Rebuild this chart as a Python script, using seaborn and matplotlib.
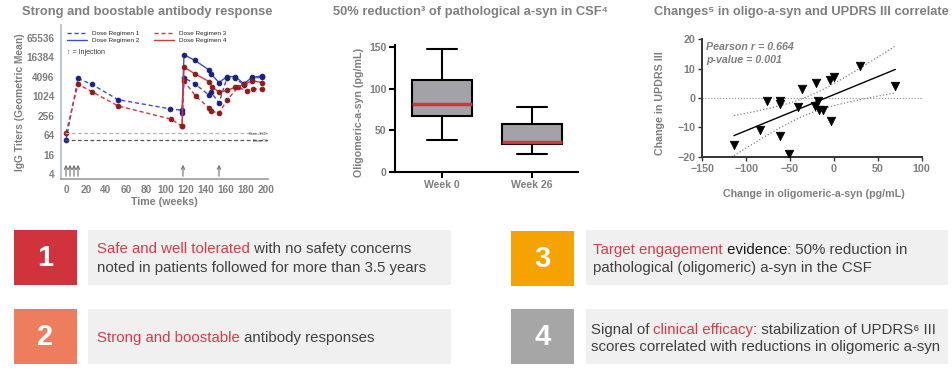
import numpy as np
import pandas as pd
import matplotlib
matplotlib.use('Agg')
import matplotlib.pyplot as plt
from matplotlib.patches import Rectangle
from matplotlib.lines import Line2D
import seaborn as sns

# ---- data ----
# antibody titers (geometric mean) by week
reg1_weeks = [0, 12, 26, 52, 104, 116, 118, 129, 143, 145, 153, 161, 169, 178, 186, 196]
reg1_titer = [46, 3600, 2350, 800, 415, 375, 3800, 2450, 1100, 1350, 640, 3800, 3600, 2300, 3600, 4000]
reg2_weeks = [116, 118, 129, 143, 145, 153, 161, 169, 178, 186, 196]
reg2_titer = [300, 19500, 13000, 6600, 5000, 2700, 4100, 4100, 2500, 3900, 4300]
reg3_weeks = [0, 12, 26, 52, 105, 116, 118, 130, 143, 145, 153, 161, 172, 181, 187, 196]
reg3_titer = [74, 2400, 1400, 512, 200, 120, 3000, 1000, 450, 360, 300, 780, 1900, 1500, 1700, 1700]
reg4_weeks = [116, 118, 129, 143, 146, 153, 161, 169, 178, 186, 196]
reg4_titer = [120, 8000, 5000, 2900, 2000, 1350, 1550, 1900, 2350, 3100, 2700]
injection_weeks = [0, 4, 8, 12, 117, 153]
ref_levels = [74, 45]
ref_names = ['Base+3SD', 'Base Ttl']
titer_ticks = [4, 16, 64, 256, 1024, 4096, 16384, 65536]

# CSF oligomeric a-syn, five-number summary (min, q1, median, q3, max)
week0_stats = [38, 67, 82, 110, 148]
week26_stats = [21, 33, 36, 57, 78]
box_groups = ['Week 0', 'Week 26']

# change in oligo-a-syn vs change in UPDRS III
oligo_change = [-114, -84, -76, -62, -61.5, -62, -51, -41, -36, -20, -22, -18, -17, -12, -4.5, 0, -3, 30, 70]
updrs_change = [-16, -11, -1, -1, -2, -13, -19, -3, 3, 5, -2.7, -1, -4, -4, 6, 7, -8, 11, 4]

GRAY = '#7f7f7f'
DARK = '#404040'
RED_TXT = '#d63c46'

sns.set_theme(style='white')
plt.rcParams['font.family'] = ['Liberation Sans', 'DejaVu Sans']

fig = plt.figure(figsize=(9.52, 3.71), dpi=100)

# overlay in pixel coords for titles and the numbered boxes
bx = fig.add_axes([0, 0, 1, 1])
bx.set_xlim(0, 952)
bx.set_ylim(371, 0)
bx.axis('off')


def bold_ticks(ax, size, color=GRAY):
    ax.tick_params(labelsize=size, labelcolor=color)
    for lbl in ax.get_xticklabels() + ax.get_yticklabels():
        lbl.set_fontweight('bold')


# ---- 1. antibody response ----
ax1 = fig.add_axes([61/952, 1-179/371, 207/952, 154/371])
blue, navy = '#3b4fd6', '#1b2180'
red, dred = '#d9363a', '#8e1c1c'
series = [
    (reg1_weeks, reg1_titer, 'Dose Regimen 1', blue, (0, (3, 2)), navy),
    (reg2_weeks, reg2_titer, 'Dose Regimen 2', blue, '-', navy),
    (reg3_weeks, reg3_titer, 'Dose Regimen 3', red, (0, (3, 2)), dred),
    (reg4_weeks, reg4_titer, 'Dose Regimen 4', red, '-', dred),
]
handles = []
for w, t, lab, c, ls, mc in series:
    sns.lineplot(x=w, y=t, ax=ax1, color=c, linestyle=ls, lw=1, marker='o', markersize=3.3,
                 markerfacecolor=mc, markeredgecolor=mc, estimator=None, sort=False)
    handles.append(Line2D([], [], color=c, linestyle=ls, lw=1, label=lab))

for lvl, name, col in zip(ref_levels, ref_names, ['#b5b5b5', '#555555']):
    ax1.axhline(lvl, xmin=0.02, ls=(0, (3, 2)), color=col, lw=0.9)
    ax1.text(201, lvl * 0.92, name, fontsize=2.8, ha='right', va='center', color='#555555')

for w in injection_weeks:
    ax1.annotate('', xy=(w, 9.5), xytext=(w, 2 ** 1.5),
                 arrowprops=dict(arrowstyle='->', color='#707070', lw=0.8, mutation_scale=6))

ax1.set_yscale('log', base=2)
ax1.set_ylim(2 ** 1.5, 2 ** 17.3)
ax1.set_yticks(titer_ticks, labels=[str(v) for v in titer_ticks])
ax1.minorticks_off()
ax1.set_xlim(-5, 202)
ax1.set_xticks(range(0, 201, 20))
ax1.tick_params(axis='both', length=2.5, width=0.6, color='#a0a0a0', pad=2)
bold_ticks(ax1, 7.2)
for s in ['top', 'right']:
    ax1.spines[s].set_visible(False)
ax1.spines['left'].set_color('#b8bcd0')
ax1.spines['bottom'].set_color('#a0a0a0')
ax1.legend(handles=handles, ncol=2, fontsize=4.6, frameon=False, loc='upper left',
           bbox_to_anchor=(0.0, 1.0), handlelength=3.2, columnspacing=2.2, labelspacing=0.25)
ax1.text(0.03, 0.82, '\u2191 = Injection', transform=ax1.transAxes, fontsize=5, color='#333333', va='center')
ax1.set_xlabel('Time (weeks)', fontsize=7.7, weight='bold', color=GRAY)
ax1.xaxis.set_label_coords(0.5, -0.12)
ax1.set_ylabel('IgG Titers (Geometric Mean)', fontsize=7.4, weight='bold', color=GRAY)
ax1.yaxis.set_label_coords(-0.175, 0.5)
bx.text(147, 12, 'Strong and boostable antibody response', fontsize=9.3, weight='bold',
        color=GRAY, ha='center', va='center')

# ---- 2. CSF box plot ----
ax2 = fig.add_axes([395/952, 1-172/371, 183/952, 126.7/371])
df_box = pd.DataFrame({'week': [box_groups[0]] * len(week0_stats) + [box_groups[1]] * len(week26_stats),
                       'value': week0_stats + week26_stats})
sns.boxplot(data=df_box, x='week', y='value', ax=ax2, color='#a3a2a8', saturation=1,
            linecolor='black', linewidth=1.5, width=0.667, whis=(0, 100),
            medianprops=dict(color='#c8383f', linewidth=2.5))
ax2.set_xlim(-0.52, 1.51)
ax2.set_ylim(0, 152)
ax2.set_yticks([0, 50, 100, 150])
for s in ['top', 'right']:
    ax2.spines[s].set_visible(False)
for s in ['left', 'bottom']:
    ax2.spines[s].set_color('black')
    ax2.spines[s].set_linewidth(1.5)
ax2.tick_params(axis='both', length=4, width=1.5, color='black', left=True, bottom=True, pad=2)
bold_ticks(ax2, 7.6)
ax2.set_xlabel('')
ax2.set_ylabel('Oligomeric-a-syn (pg/mL)', fontsize=7.7, weight='bold', color=GRAY)
ax2.yaxis.set_label_coords(-0.17, 0.47)
bx.text(470, 12, '50% reduction\u00b3 of pathological a-syn in CSF\u2074', fontsize=9.3, weight='bold',
        color=GRAY, ha='center', va='center')

# ---- 3. correlation ----
ax3 = fig.add_axes([702.3/952, 1-156.7/371, 219.4/952, 117.4/371])
ax3.axhline(0, ls=':', color='#909090', lw=0.8)
sns.regplot(x=oligo_change, y=updrs_change, ax=ax3, scatter=False, ci=None, truncate=True,
            line_kws=dict(color='black', lw=1))
xa = np.array(oligo_change, dtype=float)
ya = np.array(updrs_change, dtype=float)
n = len(xa)
b1, b0 = np.polyfit(xa, ya, 1)
resid = ya - (b0 + b1 * xa)
s_err = np.sqrt(np.sum(resid ** 2) / (n - 2))
xs = np.linspace(xa.min(), xa.max(), 100)
half = 2.11 * s_err * np.sqrt(1 / n + (xs - xa.mean()) ** 2 / np.sum((xa - xa.mean()) ** 2))
ax3.plot(xs, b0 + b1 * xs + half, ls=':', color='#808080', lw=0.9)
ax3.plot(xs, b0 + b1 * xs - half, ls=':', color='#808080', lw=0.9)
sns.scatterplot(x=oligo_change, y=updrs_change, ax=ax3, marker='v', s=38, color='black',
                edgecolor='black', zorder=3)
ax3.set_xlim(-150, 100)
ax3.set_ylim(-20, 20)
ax3.set_xticks([-150, -100, -50, 0, 50, 100])
ax3.set_yticks([-20, -10, 0, 10, 20])
for s in ['top', 'right']:
    ax3.spines[s].set_visible(False)
for s in ['left', 'bottom']:
    ax3.spines[s].set_color('#333333')
    ax3.spines[s].set_linewidth(1.4)
ax3.tick_params(axis='both', length=3, width=1, color='#333333', left=True, bottom=True, pad=2)
bold_ticks(ax3, 7.7)
ax3.text(-146, 19.2, 'Pearson r = 0.664', fontsize=7.7, weight='bold', style='italic', color=GRAY, va='top')
ax3.text(-146, 14.6, 'p-value = 0.001', fontsize=7.7, weight='bold', style='italic', color=GRAY, va='top')
ax3.set_xlabel('Change in oligomeric-a-syn (pg/mL)', fontsize=7.7, weight='bold', color=GRAY)
ax3.xaxis.set_label_coords(0.507, -0.275)
ax3.set_ylabel('Change in UPDRS III', fontsize=7.7, weight='bold', color=GRAY)
ax3.yaxis.set_label_coords(-0.17, 0.46)
bx.text(801, 12, 'Changes\u2075 in oligo-a-syn and UPDRS III correlate', fontsize=9.3, weight='bold',
        color=GRAY, ha='center', va='center')


# ---- numbered summary boxes ----
def rich(x, y, parts, size=10.8):
    t = bx.text(x, y, parts[0][0], color=parts[0][1], fontsize=size, va='baseline', ha='left')
    for s, c in parts[1:]:
        t = bx.annotate(s, xy=(1, 0), xycoords=t, va='bottom', ha='left', color=c, fontsize=size)


boxes = [
    ('1', '#d1333d', (14, 230), (88, 230, 363), [[('Safe and well tolerated', RED_TXT), (' with no safety concerns', DARK)],
                                                  [('noted in patients followed for more than 3.5 years', DARK)]], 96.7, [253.3, 271.7]),
    ('2', '#ee7d5e', (14, 309), (88, 309, 363), [[('Strong and boostable', RED_TXT), (' antibody responses', DARK)]], 96.7, [342]),
    ('3', '#f6a200', (511, 231), (586, 230, 362), [[('Target engagement', RED_TXT), (' evidence', '#1a1a1a'), (': 50% reduction in', DARK)],
                                                    [('pathological (oligomeric) a-syn in the CSF', DARK)]], 593.3, [254, 271.7]),
    ('4', '#a6a6a6', (511, 309), (586, 309, 362), [[('Signal of ', DARK), ('clinical efficacy', RED_TXT), (': stabilization of UPDRS\u2076 III', DARK)],
                                                    [('scores correlated with reductions in oligomeric a-syn', DARK)]], 590.7, [334, 350.7]),
]
for num, col, (sx, sy), (px_, py_, pw), lines, tx, tys in boxes:
    bx.add_patch(Rectangle((sx, sy), 63, 55, color=col, lw=0))
    bx.add_patch(Rectangle((px_, py_), pw, 55, color='#f0f0f0', lw=0))
    bx.text(sx + 31.5, sy + 28, num, fontsize=21, weight='bold', color='white', ha='center', va='center')
    for parts, ty in zip(lines, tys):
        rich(tx, ty, parts)

fig.savefig('out.png', dpi=100)
